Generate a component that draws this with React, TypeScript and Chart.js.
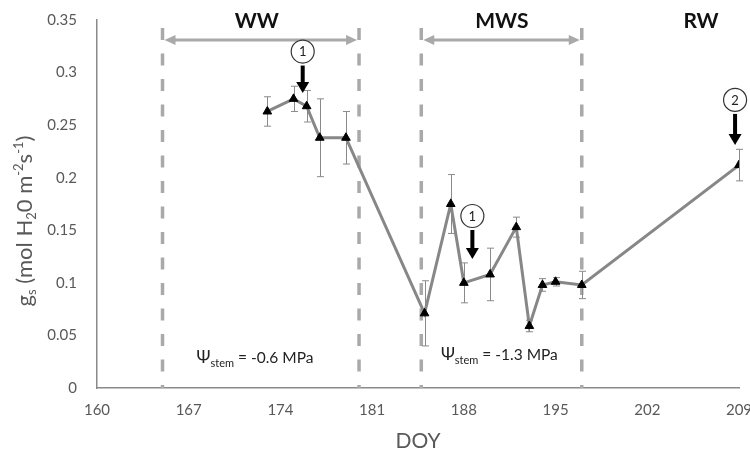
import React, { useEffect, useRef } from 'react';
import { Chart, registerables } from 'chart.js';

Chart.register(...registerables);

// ---- data ----
const doy = [173, 175, 176, 177, 179, 185, 187, 188, 190, 192, 193, 194, 195, 197, 209];
const gs = [0.263, 0.275, 0.268, 0.238, 0.238, 0.071, 0.175, 0.1, 0.108, 0.153, 0.059, 0.098, 0.101, 0.098, 0.212];
const gsErr = [0.014, 0.012, 0.015, 0.037, 0.025, 0.031, 0.028, 0.019, 0.025, 0.0095, 0.0055, 0.006, 0.004, 0.013, 0.015];

const xTicks = [160, 167, 174, 181, 188, 195, 202, 209];
const yTicks = [0, 0.05, 0.1, 0.15, 0.2, 0.25, 0.3, 0.35];

const phaseBounds = [165, 180, 184.75, 197];
const phaseNames = ['WW', 'MWS', 'RW'];
const phaseLabelDays = [172.2, 190.9, 206.1];
const phaseArrowStart = [165, 184.75];
const phaseArrowEnd = [180, 197];

const eventLabels = ['1', '1', '2'];
const eventDays = [175.7, 188.65, 208.7];
const eventCircleGs = [0.32, 0.1636, 0.274];
const eventTipGs = [0.2806, 0.1227, 0.231];

const psiValues = ['-0.6 MPa', '-1.3 MPa'];
const psiDays = [167.6, 186.25];
const psiGs = [0.0238, 0.0266];

const FONT = 'Lato, "Open Sans", sans-serif';
const GREY_TEXT = '#595959';

type Part = { t: string; size: number; dy: number };

function drawRich(ctx: CanvasRenderingContext2D, parts: Part[], x: number, y: number, align: 'left' | 'center') {
  let total = 0;
  for (const p of parts) {
    ctx.font = `${p.size}px ${FONT}`;
    total += ctx.measureText(p.t).width;
  }
  let cx = align === 'center' ? x - total / 2 : x;
  ctx.textAlign = 'left';
  ctx.textBaseline = 'alphabetic';
  for (const p of parts) {
    ctx.font = `${p.size}px ${FONT}`;
    ctx.fillText(p.t, cx, y + p.dy);
    cx += ctx.measureText(p.t).width;
  }
}

const overlay = {
  id: 'overlay',
  beforeDatasetsDraw(chart: any) {
    const { ctx, scales } = chart;
    const x = scales.x;
    const y = scales.y;
    ctx.save();
    ctx.strokeStyle = '#a9a9a9';
    ctx.lineWidth = 3.5;
    ctx.setLineDash([12, 13.5]);
    for (const b of phaseBounds) {
      const px = x.getPixelForValue(b);
      ctx.beginPath();
      ctx.moveTo(px, y.getPixelForValue(0.3425));
      ctx.lineTo(px, y.getPixelForValue(0));
      ctx.stroke();
    }
    ctx.setLineDash([]);
    ctx.strokeStyle = '#8a8a8a';
    ctx.lineWidth = 1;
    for (let i = 0; i < doy.length; i++) {
      const px = Math.round(x.getPixelForValue(doy[i])) + 0.5;
      const top = y.getPixelForValue(gs[i] + gsErr[i]);
      const bot = y.getPixelForValue(gs[i] - gsErr[i]);
      ctx.beginPath();
      ctx.moveTo(px, top);
      ctx.lineTo(px, bot);
      ctx.moveTo(px - 3.5, top);
      ctx.lineTo(px + 3.5, top);
      ctx.moveTo(px - 3.5, bot);
      ctx.lineTo(px + 3.5, bot);
      ctx.stroke();
    }
    ctx.restore();
  },
  afterDatasetsDraw(chart: any) {
    const { ctx, scales } = chart;
    const x = scales.x;
    const y = scales.y;
    ctx.save();
    ctx.fillStyle = '#111';
    ctx.font = `bold 21px ${FONT}`;
    ctx.textAlign = 'center';
    ctx.textBaseline = 'middle';
    for (let i = 0; i < phaseNames.length; i++) {
      ctx.fillText(phaseNames[i], x.getPixelForValue(phaseLabelDays[i]), y.getPixelForValue(0.35) + 1);
    }
    ctx.strokeStyle = '#a9a9a9';
    ctx.fillStyle = '#a9a9a9';
    ctx.lineWidth = 3;
    const ay = y.getPixelForValue(0.331);
    for (let i = 0; i < phaseArrowStart.length; i++) {
      const x1 = x.getPixelForValue(phaseArrowStart[i]) + 2;
      const x2 = x.getPixelForValue(phaseArrowEnd[i]) - 2;
      ctx.beginPath();
      ctx.moveTo(x1 + 8, ay);
      ctx.lineTo(x2 - 8, ay);
      ctx.stroke();
      ctx.beginPath();
      ctx.moveTo(x1, ay);
      ctx.lineTo(x1 + 11, ay - 5);
      ctx.lineTo(x1 + 11, ay + 5);
      ctx.closePath();
      ctx.fill();
      ctx.beginPath();
      ctx.moveTo(x2, ay);
      ctx.lineTo(x2 - 11, ay - 5);
      ctx.lineTo(x2 - 11, ay + 5);
      ctx.closePath();
      ctx.fill();
    }
    for (let i = 0; i < eventLabels.length; i++) {
      const px = x.getPixelForValue(eventDays[i]);
      const cy = y.getPixelForValue(eventCircleGs[i]);
      const tip = y.getPixelForValue(eventTipGs[i]);
      ctx.beginPath();
      ctx.arc(px, cy, 11.5, 0, Math.PI * 2);
      ctx.fillStyle = '#fff';
      ctx.fill();
      ctx.strokeStyle = '#333';
      ctx.lineWidth = 1.2;
      ctx.stroke();
      ctx.fillStyle = '#222';
      ctx.font = `13px ${FONT}`;
      ctx.textAlign = 'center';
      ctx.textBaseline = 'middle';
      ctx.fillText(eventLabels[i], px, cy + 0.5);
      ctx.strokeStyle = '#000';
      ctx.lineWidth = 4;
      ctx.beginPath();
      ctx.moveTo(px, cy + 14);
      ctx.lineTo(px, tip - 9);
      ctx.stroke();
      ctx.fillStyle = '#000';
      ctx.beginPath();
      ctx.moveTo(px - 6.5, tip - 11);
      ctx.lineTo(px + 6.5, tip - 11);
      ctx.lineTo(px, tip);
      ctx.closePath();
      ctx.fill();
    }
    ctx.fillStyle = '#222';
    for (let i = 0; i < psiValues.length; i++) {
      drawRich(
        ctx,
        [
          { t: 'Ψ', size: 17, dy: 0 },
          { t: 'stem', size: 11, dy: 4 },
          { t: ' = ' + psiValues[i], size: 15.5, dy: 0 },
        ],
        x.getPixelForValue(psiDays[i]),
        y.getPixelForValue(psiGs[i]),
        'left'
      );
    }
    ctx.restore();
  },
  afterDraw(chart: any) {
    const { ctx, chartArea } = chart;
    ctx.save();
    ctx.fillStyle = GREY_TEXT;
    ctx.translate(32, (chartArea.top + chartArea.bottom) / 2 + 17);
    ctx.rotate(-Math.PI / 2);
    drawRich(
      ctx,
      [
        { t: 'g', size: 22, dy: 0 },
        { t: 's', size: 13, dy: 4 },
        { t: ' (mol H', size: 22, dy: 0 },
        { t: '2', size: 13, dy: 4 },
        { t: '0 m', size: 22, dy: 0 },
        { t: '-2', size: 13, dy: -9 },
        { t: 's', size: 22, dy: 0 },
        { t: '-1', size: 13, dy: -9 },
        { t: ')', size: 22, dy: 0 },
      ],
      0,
      0,
      'center'
    );
    ctx.restore();
  },
};

export default function App() {
  const ref = useRef<HTMLCanvasElement>(null);
  useEffect(() => {
    const canvas = ref.current;
    if (!canvas) return;
    const chart = new Chart(canvas, {
      type: 'line',
      data: {
        datasets: [
          {
            data: doy.map((d, i) => ({ x: d, y: gs[i] })),
            borderColor: '#878787',
            borderWidth: 3,
            pointStyle: 'triangle',
            pointRadius: 5,
            pointBackgroundColor: '#000',
            pointBorderColor: '#000',
            pointBorderWidth: 1,
            tension: 0,
          },
        ],
      },
      options: {
        animation: false,
        responsive: false,
        devicePixelRatio: 1,
        layout: { padding: { top: 20, right: 11, left: 0, bottom: 0 } },
        plugins: { legend: { display: false }, tooltip: { enabled: false } },
        scales: {
          x: {
            type: 'linear',
            min: 160,
            max: 209,
            afterBuildTicks: (s: any) => {
              s.ticks = xTicks.map((v) => ({ value: v }));
            },
            afterFit: (s: any) => {
              s.height = 69;
              s.paddingLeft = 0;
              s.paddingRight = 0;
            },
            grid: { display: false, drawTicks: false },
            border: { display: true, color: '#8a8a8a', width: 1.5 },
            ticks: {
              color: GREY_TEXT,
              font: { family: FONT, size: 15 },
              padding: 13,
              maxRotation: 0,
              autoSkip: false,
              callback: (v: any) => String(v),
            },
            title: {
              display: true,
              text: 'DOY',
              color: GREY_TEXT,
              font: { family: FONT, size: 21 },
              padding: { top: 0, bottom: 3 },
            },
          },
          y: {
            type: 'linear',
            min: 0,
            max: 0.35,
            afterBuildTicks: (s: any) => {
              s.ticks = yTicks.map((v) => ({ value: v }));
            },
            afterFit: (s: any) => {
              s.width = 97;
              s.paddingTop = 0;
              s.paddingBottom = 0;
            },
            grid: { display: false, drawTicks: false },
            border: { display: true, color: '#8a8a8a', width: 1.5 },
            ticks: {
              color: GREY_TEXT,
              font: { family: FONT, size: 15 },
              padding: 20,
              autoSkip: false,
              callback: (v: any) => String(+Number(v).toFixed(2)),
            },
          },
        },
      },
      plugins: [overlay],
    });
    return () => chart.destroy();
  }, []);
  return (
    <div style={{ position: 'fixed', left: 0, top: 0, width: 750, height: 457, background: '#fff' }}>
      <canvas ref={ref} width={750} height={457} style={{ display: 'block', width: 750, height: 457 }} />
    </div>
  );
}
